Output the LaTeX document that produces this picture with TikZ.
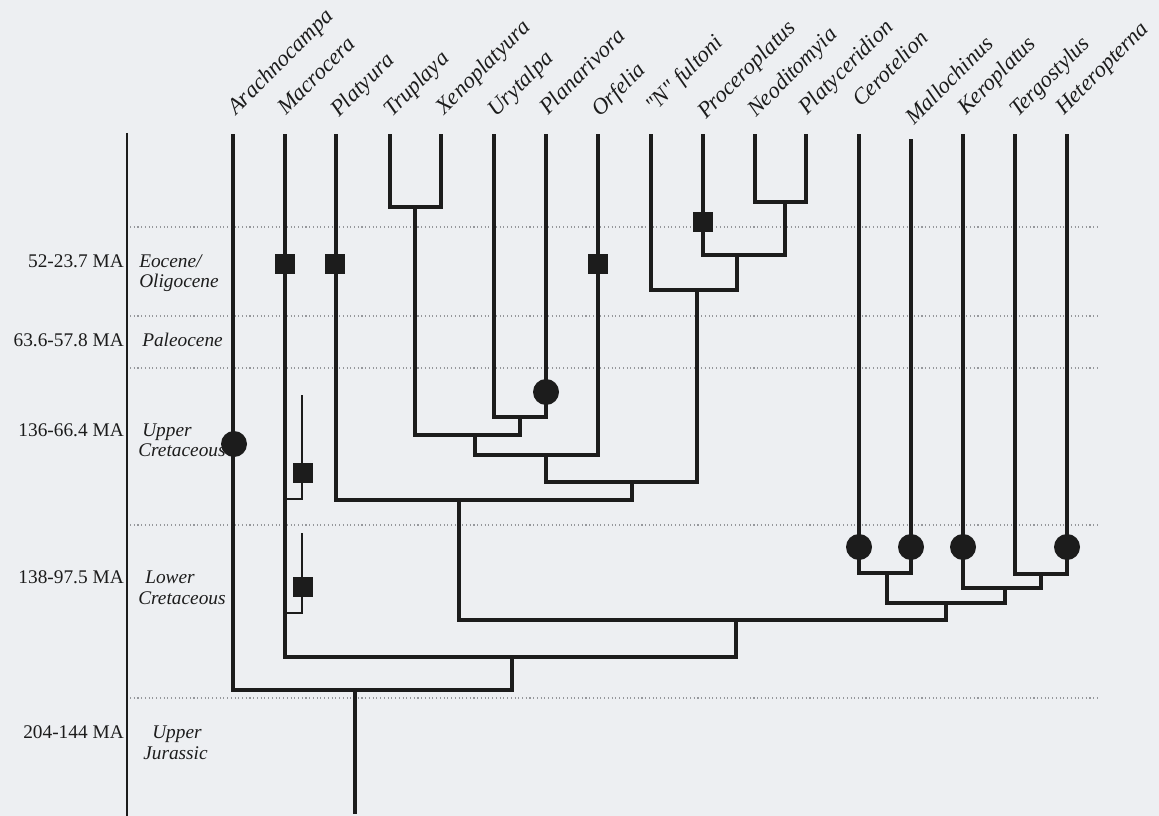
\documentclass[tikz,border=0pt]{standalone}
\usepackage{fontspec}
\setmainfont{Liberation Serif}[Ligatures=TeXOff]
\definecolor{bg}{RGB}{237,239,242}
\definecolor{ink}{RGB}{28,28,28}
\definecolor{gridc}{RGB}{150,152,156}
\begin{document}
\begin{tikzpicture}[x=0.75pt,y=-0.75pt,
  branch/.style={draw=ink,line width=2.8pt,line cap=rect,line join=miter},
  thinbranch/.style={draw=ink,line width=1.2pt},
  axisline/.style={draw=ink,line width=1.1pt},
  gridline/.style={draw=gridc,line width=0.8pt,dotted},
  sq/.style={fill=ink,rectangle,minimum size=15.5pt,inner sep=0pt},
  dot/.style={fill=ink,circle,minimum size=19.5pt,inner sep=0pt},
  taxon/.style={font=\itshape\fontsize{17}{20}\selectfont,rotate=45,anchor=base west,inner sep=0pt,text=ink},
  age/.style={font=\fontsize{14.5}{17}\selectfont,anchor=base east,inner sep=0pt,text=ink},
  epoch/.style={font=\itshape\fontsize{14.5}{17}\selectfont,anchor=base west,inner sep=0pt,text=ink}]

\fill[bg] (0,0) rectangle (1159,816);
\useasboundingbox (0,0) rectangle (1159,816);

% grid lines
\foreach \n/\yy in {1/227,2/316,3/368,4/525,5/698}{
  \coordinate (g\n a) at (130,\yy);
  \coordinate (g\n b) at (1097,\yy);
  \draw[gridline] (g\n a) -- (g\n b);
}

% time axis
\coordinate (axTop) at (127,133);
\coordinate (axBot) at (127,816);
\draw[axisline] (axTop) -- (axBot);

% age labels
\node[age] (a1) at (124,268) {52-23.7 MA};
\node[age] (a2) at (124,346) {63.6-57.8 MA};
\node[age] (a3) at (124,436) {136-66.4 MA};
\node[age] (a4) at (124,583) {138-97.5 MA};
\node[age] (a5) at (124,738) {204-144 MA};

\node[epoch] (e1a) at (139,268) {Eocene/};
\node[epoch] (e1b) at (139,288) {Oligocene};
\node[epoch] (e2)  at (142,346) {Paleocene};
\node[epoch] (e3a) at (142,436) {Upper};
\node[epoch] (e3b) at (138,456) {Cretaceous};
\node[epoch] (e4a) at (145,583) {Lower};
\node[epoch] (e4b) at (138,604) {Cretaceous};
\node[epoch] (e5a) at (152,738) {Upper};
\node[epoch] (e5b) at (143,759) {Jurassic};

% tips
\coordinate (tA)  at (233,136);
\coordinate (tM)  at (285,136);
\coordinate (tPl) at (336,136);
\coordinate (tTr) at (390,136);
\coordinate (tX)  at (441,136);
\coordinate (tU)  at (494,136);
\coordinate (tPn) at (546,136);
\coordinate (tO)  at (598,136);
\coordinate (tN)  at (651,136);
\coordinate (tPr) at (703,136);
\coordinate (tNe) at (755,136);
\coordinate (tPc) at (806,136);
\coordinate (tC)  at (859,136);
\coordinate (tMa) at (911,141);
\coordinate (tK)  at (963,136);
\coordinate (tT)  at (1015,136);
\coordinate (tH)  at (1067,136);

% internal joins
\coordinate (jTX)   at (415,207);
\coordinate (jUP)   at (520,417);
\coordinate (jTXUP) at (475,435);
\coordinate (jB)    at (546,455);
\coordinate (jC)    at (632,482);
\coordinate (jNePc) at (785,202);
\coordinate (jPNP)  at (737,255);
\coordinate (jNP)   at (697,290);
\coordinate (jD)    at (459,500);
\coordinate (jCM)   at (887,573);
\coordinate (jTH)   at (1041,574);
\coordinate (jKTH)  at (1005,588);
\coordinate (jK)    at (946,603);
\coordinate (jE)    at (736,620);
\coordinate (jF)    at (512,657);
\coordinate (jR)    at (355,690);
\coordinate (root)  at (355,812);

% branches
\draw[branch] (tTr) |- (jTX) -| (tX);
\draw[branch] (tU) |- (jUP) -| (tPn);
\draw[branch] (jTX) |- (jTXUP) -| (jUP);
\draw[branch] (jTXUP) |- (jB) -| (tO);
\draw[branch] (tNe) |- (jNePc) -| (tPc);
\draw[branch] (tPr) |- (jPNP) -| (jNePc);
\draw[branch] (tN) |- (jNP) -| (jPNP);
\draw[branch] (jB) |- (jC) -| (jNP);
\draw[branch] (tPl) |- (jD) -| (jC);
\draw[branch] (tC) |- (jCM) -| (tMa);
\draw[branch] (tT) |- (jTH) -| (tH);
\draw[branch] (tK) |- (jKTH) -| (jTH);
\draw[branch] (jCM) |- (jK) -| (jKTH);
\draw[branch] (jD) |- (jE) -| (jK);
\draw[branch] (tM) |- (jF) -| (jE);
\draw[branch] (tA) |- (jR) -| (jF);
\draw[branch] (jR) -- (root);

% small side branches on Macrocera
\coordinate (s1top) at (302,395);
\coordinate (s1base) at (285,499);
\coordinate (s2top) at (302,533);
\coordinate (s2base) at (285,613);
\draw[thinbranch] (s1top) |- (s1base);
\draw[thinbranch] (s2top) |- (s2base);

% squares
\node[sq] (qM)  at (285,264) {};
\node[sq] (qPl) at (335,264) {};
\node[sq] (qO)  at (598,264) {};
\node[sq] (qPr) at (703,222) {};
\node[sq] (qS1) at (303,473) {};
\node[sq] (qS2) at (303,587) {};

% circles
\node[dot] (cA)  at (234,444) {};
\node[dot] (cPn) at (546,392) {};
\node[dot] (cC)  at (859,547) {};
\node[dot] (cMa) at (911,547) {};
\node[dot] (cK)  at (963,547) {};
\node[dot] (cH)  at (1067,547) {};

% taxon labels
\node[taxon] (lA)  at (236,116) {Arachnocampa};
\node[taxon] (lM)  at (286,116) {Macrocera};
\node[taxon] (lPl) at (339,118) {Platyura};
\node[taxon] (lTr) at (392,118) {Truplaya};
\node[taxon] (lX)  at (444,116) {Xenoplatyura};
\node[taxon] (lU)  at (496,118) {Urytalpa};
\node[taxon] (lPn) at (548,116) {Planarivora};
\node[taxon] (lO)  at (600,118) {Orfelia};
\node[taxon] (lN)  at (654,114) {"N" fultoni};
\node[taxon] (lPr) at (706,120) {Proceroplatus};
\node[taxon] (lNe) at (756,118) {Neoditomyia};
\node[taxon] (lPc) at (807,116) {Platyceridion};
\node[taxon] (lC)  at (861,108) {Cerotelion};
\node[taxon] (lMa) at (914,126) {Mallochinus};
\node[taxon] (lK)  at (966,116) {Keroplatus};
\node[taxon] (lT)  at (1018,118) {Tergostylus};
\node[taxon] (lH)  at (1064,116) {Heteropterna};
\end{tikzpicture}
\end{document}
